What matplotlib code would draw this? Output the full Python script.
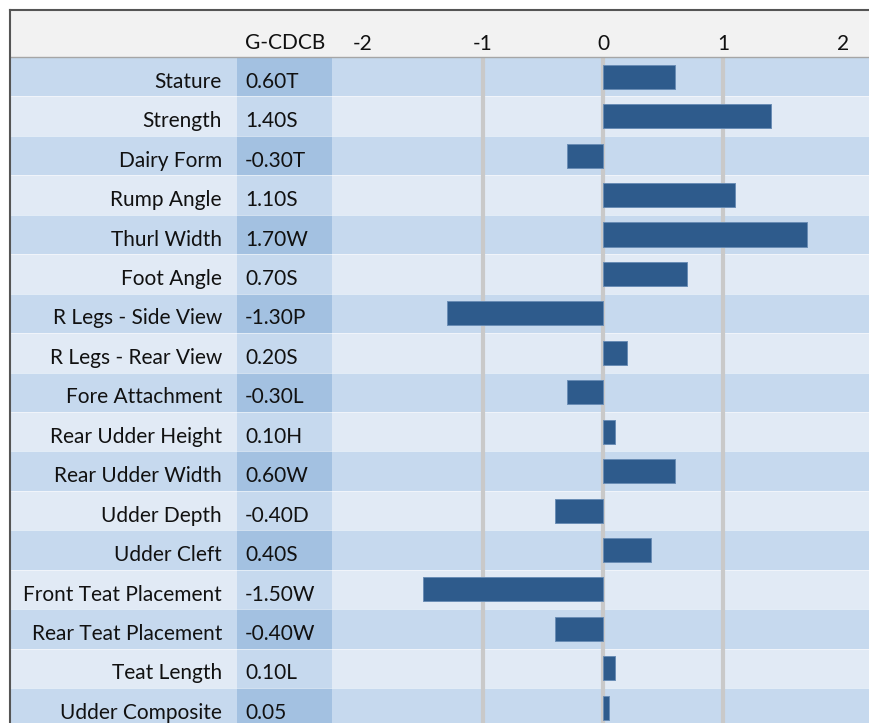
import matplotlib.pyplot as plt
from matplotlib.patches import Rectangle
from matplotlib.lines import Line2D

traits = ['Stature', 'Strength', 'Dairy Form', 'Rump Angle', 'Thurl Width',
          'Foot Angle', 'R Legs - Side View', 'R Legs - Rear View',
          'Fore Attachment', 'Rear Udder Height', 'Rear Udder Width',
          'Udder Depth', 'Udder Cleft', 'Front Teat Placement',
          'Rear Teat Placement', 'Teat Length', 'Udder Composite']
values = [0.60, 1.40, -0.30, 1.10, 1.70, 0.70, -1.30, 0.20, -0.30, 0.10,
          0.60, -0.40, 0.40, -1.50, -0.40, 0.10, 0.05]
value_labels = ['0.60T', '1.40S', '-0.30T', '1.10S', '1.70W', '0.70S', '-1.30P',
                '0.20S', '-0.30L', '0.10H', '0.60W', '-0.40D', '0.40S',
                '-1.50W', '-0.40W', '0.10L', '0.05']
ticks = [-2, -1, 0, 1, 2]
grid_at = [-1, 0, 1]
column_title = 'G-CDCB'

plt.rcParams['font.family'] = ['Lato', 'DejaVu Sans']
FS = 15

W, H = 869, 723
fig = plt.figure(figsize=(W / 100, H / 100), dpi=100)

# header band and border (pixel positions measured from top-left)
fig.patches.append(Rectangle((10 / W, (H - 57) / H), (W - 10) / W, 47 / H,
                             transform=fig.transFigure, facecolor='#f2f2f2',
                             edgecolor='none', zorder=-1))
fig.lines.append(Line2D([10 / W, 1], [(H - 57) / H] * 2, transform=fig.transFigure,
                        color='#a6a6a6', lw=1, zorder=3))
fig.lines.append(Line2D([10 / W, 1], [(H - 10) / H] * 2, transform=fig.transFigure,
                        color='#555555', lw=1.5, zorder=3))
fig.lines.append(Line2D([10 / W] * 2, [0, (H - 10) / H], transform=fig.transFigure,
                        color='#555555', lw=1.5, zorder=3))

ax = fig.add_axes([10 / W, 0, (W - 10) / W, (H - 57) / H])
px = 120.0  # pixels per unit
ax.set_xlim((10 - 603) / px, (W - 603) / px)
ax.set_ylim(-0.5 + (H - 57) / 39.44, -0.5)

n = len(traits)
val_x0 = (237 - 603) / px
val_x1 = (332 - 603) / px
for i in range(n):
    light = i % 2 == 0
    ax.axhspan(i - 0.5, i + 0.5, color='#c6d9ee' if light else '#e1eaf5', lw=0, zorder=0)
    ax.add_patch(Rectangle((val_x0, i - 0.5), val_x1 - val_x0, 1,
                           facecolor='#a3c1e1' if light else '#c6d9ee',
                           edgecolor='none', zorder=0.5))
    ax.axhline(i + 0.5, color='white', lw=0.6, alpha=0.6, zorder=0.6)
    ax.text((222 - 603) / px, i + 0.13, traits[i], ha='right', va='center',
            fontsize=FS, color='#111111')
    ax.text((245 - 603) / px, i + 0.13, value_labels[i], ha='left', va='center',
            fontsize=FS, color='#111111')

for g in grid_at:
    ax.axvline(g, color='#c9c9c9', lw=3, zorder=1)

ax.barh(range(n), values, height=0.61, color='#2e5b8c', edgecolor='#6a8db5',
        linewidth=0.7, zorder=2)

ax.xaxis.tick_top()
ax.set_xticks(ticks)
ax.set_xticklabels([str(t) for t in ticks], fontsize=FS, color='#111111')
ax.tick_params(axis='x', length=0, pad=2.5)
ax.set_yticks([])
for s in ax.spines.values():
    s.set_visible(False)

ax.text((245 - 603) / px, -0.5 - 4 / 39.44, column_title, ha='left', va='bottom',
        fontsize=FS, color='#111111')

fig.savefig('out.png', dpi=100)
